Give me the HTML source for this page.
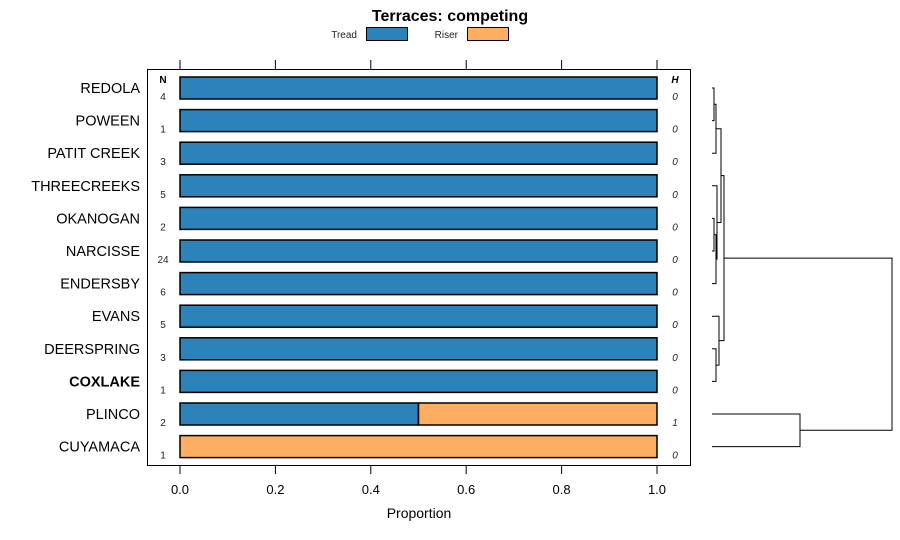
<!DOCTYPE html>
<html><head><meta charset="utf-8"><style>
body{margin:0;background:#fff;}
svg{font-family:"Liberation Sans",sans-serif;display:block;}
</style></head><body>
<svg id="chart" width="900" height="540">
<text x="450" y="21" text-anchor="middle" font-size="16" font-weight="bold">Terraces: competing</text>
<g>
<text x="357" y="38" text-anchor="end" font-size="10" fill="#222">Tread</text>
<rect x="366.5" y="27.5" width="41" height="13" fill="#2b83ba" stroke="#000"/>
<text x="458" y="38" text-anchor="end" font-size="10" fill="#222">Riser</text>
<rect x="467.5" y="27.5" width="41" height="13" fill="#fdae61" stroke="#000"/>
</g>
<rect x="147.5" y="69.5" width="543" height="396" fill="none" stroke="#000"/>
<text x="163" y="83" text-anchor="middle" font-size="10" font-weight="bold">N</text>
<text x="675" y="83" text-anchor="middle" font-size="10" font-weight="bold" font-style="italic">H</text>
<text x="419" y="518" text-anchor="middle" font-size="14">Proportion</text>
<g id="marks"></g>
</svg>
<script>
const sites=["REDOLA","POWEEN","PATIT CREEK","THREECREEKS","OKANOGAN","NARCISSE","ENDERSBY","EVANS","DEERSPRING","COXLAKE","PLINCO","CUYAMACA"];
const tread=[1,1,1,1,1,1,1,1,1,1,0.5,0];
const riser=[0,0,0,0,0,0,0,0,0,0,0.5,1];
const nVals=[4,1,3,5,2,24,6,5,3,1,2,1];
const hVals=[0,0,0,0,0,0,0,0,0,0,1,0];
const ticks=[0,0.2,0.4,0.6,0.8,1.0];
const tickLabels=["0.0","0.2","0.4","0.6","0.8","1.0"];
// dendrogram merges: [leftNode, rightNode, height]; leaves 0..11, internal nodes 12+
const merges=[[0,1,0.02],[12,2,0.04],[4,5,0.02],[14,6,0.04],[3,15,0.05],[13,16,0.09],[8,9,0.04],[7,18,0.07],[17,19,0.12],[10,11,0.88],[20,21,1.8]];
const NS="http://www.w3.org/2000/svg";
const g=document.getElementById("marks");
const X=v=>180+v*477;
const Y=i=>88+i*32.6;
const D=h=>712+h*100;
function mk(t,a){const e=document.createElementNS(NS,t);for(const k in a)e.setAttribute(k,a[k]);g.appendChild(e);return e;}
ticks.forEach((t,i)=>{
 let e=mk("line",{x1:X(t),x2:X(t),y1:60,y2:69,stroke:"#000"});
 
 
 e=mk("line",{x1:X(t),x2:X(t),y1:466,y2:474,stroke:"#000"});
 
 
 e=mk("text",{x:X(t),y:494,"text-anchor":"middle","font-size":13});
 e.textContent=tickLabels[i];
 
 
});
sites.forEach((s,i)=>{
 const y=Y(i);
 let e=mk("text",{x:140,y:y+5,"text-anchor":"end","font-size":14.5,"font-weight":s==="COXLAKE"?"bold":"normal"});
 e.textContent=s;
 
 
 if(tread[i]>0){e=mk("rect",{x:X(0),y:y-11,width:X(tread[i])-X(0),height:22,fill:"#2b83ba",stroke:"#000","stroke-width":1.5});
 
 }
 if(riser[i]>0){e=mk("rect",{x:X(tread[i]),y:y-11,width:X(tread[i]+riser[i])-X(tread[i]),height:22,fill:"#fdae61",stroke:"#000","stroke-width":1.5});
 
 }
 e=mk("text",{x:163,y:y+12,"text-anchor":"middle","font-size":10,fill:"#222"});
 e.textContent=nVals[i];
 
 
 e=mk("text",{x:675,y:y+12,"text-anchor":"middle","font-size":10,"font-style":"italic",fill:"#222"});
 e.textContent=hVals[i];
 
 
});
const pos=sites.map((s,i)=>({y:Y(i),h:0}));
merges.forEach(m=>{
 const a=pos[m[0]],b=pos[m[1]],x=D(m[2]);
 const p=mk("polyline",{points:`${D(a.h)},${a.y} ${x},${a.y} ${x},${b.y} ${D(b.h)},${b.y}`,fill:"none",stroke:"#000","stroke-width":1});
 
 
 pos.push({y:(a.y+b.y)/2,h:m[2]});
});
</script>
</body></html>
